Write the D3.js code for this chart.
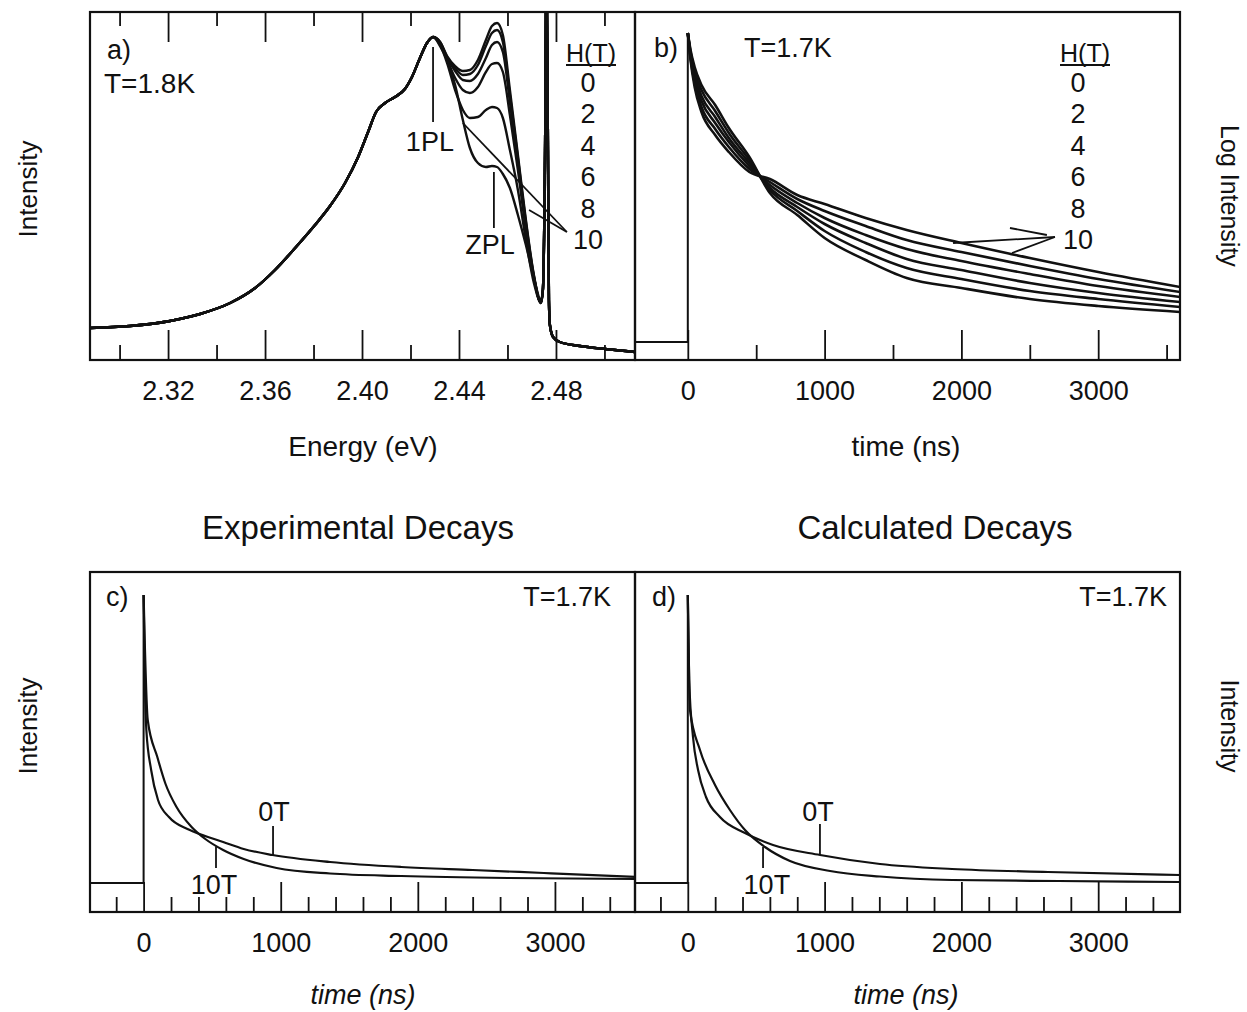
<!DOCTYPE html>
<html>
<head>
<meta charset="utf-8">
<script src="https://cdn.jsdelivr.net/npm/d3@7"></script>
<style>
  body { margin: 0; background: #fff; }
  svg text { font-family: "Liberation Sans", Arial, sans-serif; fill: #111; }
</style>
</head>
<body>
<svg id="chart" width="1247" height="1012"></svg>
<script>
// ---- panel a: PL spectra (energy in eV, intensity in arb. units) ----
var fields = [0, 2, 4, 6, 8, 10];

var plEnergyLow = [2.2878, 2.3043, 2.3208, 2.3332, 2.3456, 2.3559, 2.3641, 2.3724, 2.3806, 2.3868, 2.3930,
                   2.3984, 2.4025, 2.4058, 2.4095, 2.4136, 2.4177, 2.4206, 2.4239, 2.4268, 2.4293];
var plLow = [0.32, 0.34, 0.39, 0.46, 0.57, 0.72, 0.90, 1.12, 1.35, 1.54, 1.77,
             2.03, 2.28, 2.48, 2.57, 2.63, 2.71, 2.83, 3.02, 3.17, 3.23];

var plEnergyMid = [2.4322, 2.4351, 2.4384, 2.4416, 2.4445, 2.4478, 2.4511, 2.4536, 2.4557, 2.4581,
                   2.4610, 2.4643, 2.4676, 2.4709, 2.4738];
var pl0T  = [3.18, 3.04, 2.94, 2.89, 2.90, 3.00, 3.20, 3.34, 3.37, 3.25, 2.70, 2.05, 1.40, 0.85, 0.57];
var pl2T  = [3.18, 3.03, 2.92, 2.85, 2.86, 2.95, 3.14, 3.27, 3.30, 3.18, 2.65, 2.02, 1.38, 0.84, 0.57];
var pl4T  = [3.17, 3.02, 2.89, 2.80, 2.79, 2.86, 3.02, 3.15, 3.18, 3.08, 2.58, 1.97, 1.35, 0.83, 0.57];
var pl6T  = [3.16, 3.00, 2.82, 2.70, 2.67, 2.73, 2.88, 2.96, 2.97, 2.88, 2.45, 1.90, 1.30, 0.81, 0.57];
var pl8T  = [3.15, 2.97, 2.70, 2.50, 2.42, 2.43, 2.50, 2.53, 2.52, 2.42, 2.10, 1.70, 1.20, 0.77, 0.58];
var pl10T = [3.14, 3.00, 2.75, 2.40, 2.12, 1.97, 1.93, 1.94, 1.93, 1.86, 1.72, 1.45, 1.15, 0.82, 0.60];

var plEnergyHigh = [2.4746, 2.4755, 2.4761, 2.4767, 2.4771, 2.4775, 2.4788, 2.4816, 2.4899, 2.5002, 2.5126];
var plHigh = [0.70, 2.10, 4.10, 2.10, 0.60, 0.35, 0.23, 0.18, 0.14, 0.11, 0.08];

var energyTicks = [2.32, 2.36, 2.40, 2.44, 2.48];
var energyMinor = [2.30, 2.34, 2.38, 2.42, 2.46, 2.50];

// ---- panel b: log decays vs field ----
var decayTime = [0, 20, 50, 100, 200, 300, 450, 600, 800, 1000, 1300, 1600, 2000, 2500, 3000, 3600];
var logDecay0T  = [3.27, 3.10, 2.93, 2.75, 2.55, 2.32, 2.03, 1.67, 1.45, 1.22, 1.00, 0.82, 0.72, 0.61, 0.54, 0.48];
var logDecay2T  = [3.27, 3.08, 2.89, 2.70, 2.49, 2.27, 2.00, 1.70, 1.49, 1.29, 1.08, 0.92, 0.81, 0.69, 0.61, 0.53];
var logDecay4T  = [3.27, 3.06, 2.85, 2.64, 2.43, 2.22, 1.97, 1.72, 1.53, 1.36, 1.17, 1.01, 0.90, 0.77, 0.67, 0.58];
var logDecay6T  = [3.27, 3.04, 2.81, 2.59, 2.37, 2.18, 1.94, 1.75, 1.57, 1.42, 1.25, 1.11, 0.99, 0.86, 0.74, 0.63];
var logDecay8T  = [3.27, 3.02, 2.77, 2.53, 2.31, 2.13, 1.91, 1.78, 1.61, 1.49, 1.34, 1.20, 1.08, 0.94, 0.81, 0.68];
var logDecay10T = [3.27, 3.00, 2.73, 2.48, 2.25, 2.08, 1.88, 1.81, 1.65, 1.56, 1.42, 1.30, 1.17, 1.02, 0.88, 0.73];
var logBgTime = [-400, 0, 0];
var logBg = [0.18, 0.18, 3.27];

// ---- panel c: experimental decays ----
var expTime0T = [0, 10, 20, 55, 105, 185, 320, 370, 580, 730, 940, 1360, 1880, 2400, 2920, 3600];
var exp0T = [3.17, 2.22, 1.82, 1.42, 1.12, 0.95, 0.83, 0.80, 0.70, 0.63, 0.57, 0.50, 0.45, 0.42, 0.39, 0.35];
var expTime10T = [0, 10, 30, 100, 160, 240, 350, 450, 580, 730, 970, 1360, 1880, 2660, 3600];
var exp10T = [3.17, 2.62, 1.92, 1.55, 1.28, 1.05, 0.85, 0.73, 0.62, 0.53, 0.44, 0.385, 0.36, 0.34, 0.33];

// ---- panel d: calculated decays ----
var calcTime0T = [0, 10, 38, 75, 133, 235, 418, 623, 967, 1405, 1931, 2633, 3600];
var calc0T = [3.17, 2.32, 1.75, 1.42, 1.15, 0.95, 0.79, 0.67, 0.57, 0.48, 0.43, 0.40, 0.37];
var calcTime10T = [0, 5, 16, 89, 199, 308, 418, 564, 747, 1040, 1405, 1931, 2713, 3600];
var calc10T = [3.17, 2.72, 2.02, 1.62, 1.27, 1.02, 0.82, 0.65, 0.51, 0.41, 0.355, 0.32, 0.31, 0.30];
var bgTime = [-400, 0, 0];
var bgLevel = [0.29, 0.29, 3.17];

var timeTicks = [0, 1000, 2000, 3000];

var svg = d3.select("#chart");
var ink = "#111";

var xA = d3.scaleLinear().domain([2.2878, 2.5126]).range([90, 635]);
var yA = d3.scaleLinear().domain([0, 3.48]).range([360, 12]);
var xB = d3.scaleLinear().domain([-386, 3598]).range([635, 1180]);
var yB = d3.scaleLinear().domain([0, 3.48]).range([360, 12]);
var xC = d3.scaleLinear().domain([-391, 3584]).range([90, 635]);
var yC = d3.scaleLinear().domain([0, 3.4]).range([912, 572]);
var xD = d3.scaleLinear().domain([-386, 3598]).range([635, 1180]);
var yD = yC;

function clip(id, x, y) {
    svg.append("clipPath").attr("id", id)
        .append("rect")
        .attr("x", x.range()[0]).attr("y", y.range()[1])
        .attr("width", x.range()[1] - x.range()[0])
        .attr("height", y.range()[0] - y.range()[1]);
    return svg.append("g").attr("clip-path", "url(#" + id + ")");
}

function curve(g, x, y, xs, ys, width, smooth) {
    var line = d3.line()
        .x(function(d) { return x(d[0]); })
        .y(function(d) { return y(d[1]); })
        .curve(smooth ? d3.curveMonotoneX : d3.curveLinear);
    g.append("path")
        .datum(d3.zip(xs, ys))
        .attr("d", line)
        .attr("fill", "none")
        .attr("stroke", ink)
        .attr("stroke-width", width)
        .attr("stroke-linejoin", "round");
}

function seg(x, y, pts) {
    svg.append("path")
        .attr("d", d3.line().x(function(d) { return x(d[0]); }).y(function(d) { return y(d[1]); })(pts))
        .attr("fill", "none").attr("stroke", ink).attr("stroke-width", 1.8);
}

function frame(x, y) {
    svg.append("rect")
        .attr("x", x.range()[0]).attr("y", y.range()[1])
        .attr("width", x.range()[1] - x.range()[0])
        .attr("height", y.range()[0] - y.range()[1])
        .attr("fill", "none").attr("stroke", ink).attr("stroke-width", 2.2);
}

function ticks(x, y, major, minor, fmt, top) {
    var base = y.range()[0];
    var gMinor = svg.append("g").attr("transform", "translate(0," + base + ")")
        .call(d3.axisBottom(x).tickValues(minor).tickSize(-15).tickFormat(""));
    var gMajor = svg.append("g").attr("transform", "translate(0," + base + ")")
        .call(d3.axisBottom(x).tickValues(major).tickSize(-30).tickPadding(21).tickFormat(fmt));
    if (top) {
        svg.append("g").attr("transform", "translate(0," + y.range()[1] + ")")
            .call(d3.axisTop(x).tickValues(minor).tickSize(-14).tickFormat(""))
            .call(function(g) { g.select(".domain").remove(); });
        svg.append("g").attr("transform", "translate(0," + y.range()[1] + ")")
            .call(d3.axisTop(x).tickValues(major).tickSize(-30).tickFormat(""))
            .call(function(g) { g.select(".domain").remove(); });
    }
    [gMinor, gMajor].forEach(function(g) { g.select(".domain").remove(); });
    svg.selectAll(".tick line").attr("stroke", ink).attr("stroke-width", 1.8);
    gMajor.selectAll("text").attr("font-size", 27).attr("fill", ink)
        .style("font-family", "'Liberation Sans', Arial, sans-serif");
}

function label(txt, px, py, size, anchor, rot) {
    var t = svg.append("text")
        .attr("x", px).attr("y", py)
        .attr("font-size", size)
        .attr("text-anchor", anchor || "start")
        .text(txt);
    if (rot) t.attr("transform", "rotate(" + rot + "," + px + "," + py + ")");
    return t;
}

function legend(cx, numX, topY) {
    var h = label("H(T)", cx, topY, 25, "middle");
    var bb = h.node().getBBox();
    svg.append("line")
        .attr("x1", bb.x).attr("x2", bb.x + bb.width)
        .attr("y1", topY + 3).attr("y2", topY + 3)
        .attr("stroke", ink).attr("stroke-width", 1.8);
    fields.forEach(function(f, i) {
        label(String(f), numX, topY + 30 + i * 31.4, 27, "middle");
    });
}

// ---- panel a ----
var gA = clip("clipA", xA, yA);
[pl0T, pl2T, pl4T, pl6T, pl8T, pl10T].forEach(function(mid) {
    curve(gA, xA, yA,
          plEnergyLow.concat(plEnergyMid, plEnergyHigh),
          plLow.concat(mid, plHigh), 2.4, true);
});
seg(xA, yA, [[2.4293, 3.13], [2.4293, 2.38]]);
seg(xA, yA, [[2.4544, 1.88], [2.4544, 1.32]]);
seg(xA, yA, [[2.4416, 2.37], [2.4845, 1.28]]);
seg(xA, yA, [[2.4689, 1.50], [2.4845, 1.28]]);
label("1PL", xA(2.4280), yA(2.09), 27, "middle");
label("ZPL", xA(2.4528), yA(1.06), 27, "middle");
label("a)", 107, 59, 27);
label("T=1.8K", 104, 93, 28);
legend(591, 588, 62);
frame(xA, yA);
ticks(xA, yA, energyTicks, energyMinor, d3.format(".2f"), true);

// ---- panel b ----
var gB = clip("clipB", xB, yB);
curve(gB, xB, yB, logBgTime, logBg, 2, false);
[logDecay0T, logDecay2T, logDecay4T, logDecay6T, logDecay8T, logDecay10T].forEach(function(v) {
    curve(gB, xB, yB, decayTime, v, 2.6, true);
});
seg(xB, yB, [[1939, 1.17], [2684, 1.23]]);
seg(xB, yB, [[2370, 1.07], [2684, 1.23]]);
seg(xB, yB, [[2355, 1.32], [2625, 1.25]]);
label("b)", 654, 57, 27);
label("T=1.7K", 744, 57, 27);
legend(1085, 1078, 62);
frame(xB, yB);
ticks(xB, yB, timeTicks, [500, 1500, 2500, 3500], d3.format("d"), false);

// ---- panel c ----
var gC = clip("clipC", xC, yC);
curve(gC, xC, yC, bgTime, bgLevel, 2, false);
curve(gC, xC, yC, expTime0T, exp0T, 2.2, true);
curve(gC, xC, yC, expTime10T, exp10T, 2.2, true);
seg(xC, yC, [[944, 0.86], [944, 0.57]]);
seg(xC, yC, [[528, 0.44], [528, 0.655]]);
label("0T", xC(951), yC(0.91), 27, "middle");
label("10T", xC(513), yC(0.18), 27, "middle");
label("c)", 106, 606, 27);
label("T=1.7K", 611, 606, 27, "end");
frame(xC, yC);
var minorCD = d3.range(-200, 3600, 200).filter(function(t) { return t % 1000 !== 0; });
ticks(xC, yC, timeTicks, minorCD, d3.format("d"), false);

// ---- panel d ----
var gD = clip("clipD", xD, yD);
curve(gD, xD, yD, bgTime, bgLevel, 2, false);
curve(gD, xD, yD, calcTime0T, calc0T, 2.2, true);
curve(gD, xD, yD, calcTime10T, calc10T, 2.2, true);
seg(xD, yD, [[966, 0.88], [966, 0.57]]);
seg(xD, yD, [[550, 0.44], [550, 0.65]]);
label("0T", xD(952), yD(0.91), 27, "middle");
label("10T", xD(578), yD(0.18), 27, "middle");
label("d)", 652, 606, 27);
label("T=1.7K", 1167, 606, 27, "end");
frame(xD, yD);
ticks(xD, yD, timeTicks, minorCD, d3.format("d"), false);

// ---- titles and axis names ----
label("Experimental Decays", 358, 539, 33, "middle");
label("Calculated Decays", 935, 539, 33, "middle");
label("Energy (eV)", 363, 456, 28, "middle");
label("time (ns)", 906, 456, 28, "middle");
label("time (ns)", 363, 1004, 27, "middle").attr("font-style", "italic");
label("time (ns)", 906, 1004, 27, "middle").attr("font-style", "italic");
label("Intensity", 37, 189, 26, "middle", -90);
label("Intensity", 37, 726, 26, "middle", -90);
label("Log Intensity", 1221, 196, 25, "middle", 90);
label("Intensity", 1221, 726, 25, "middle", 90);
</script>
</body>
</html>
